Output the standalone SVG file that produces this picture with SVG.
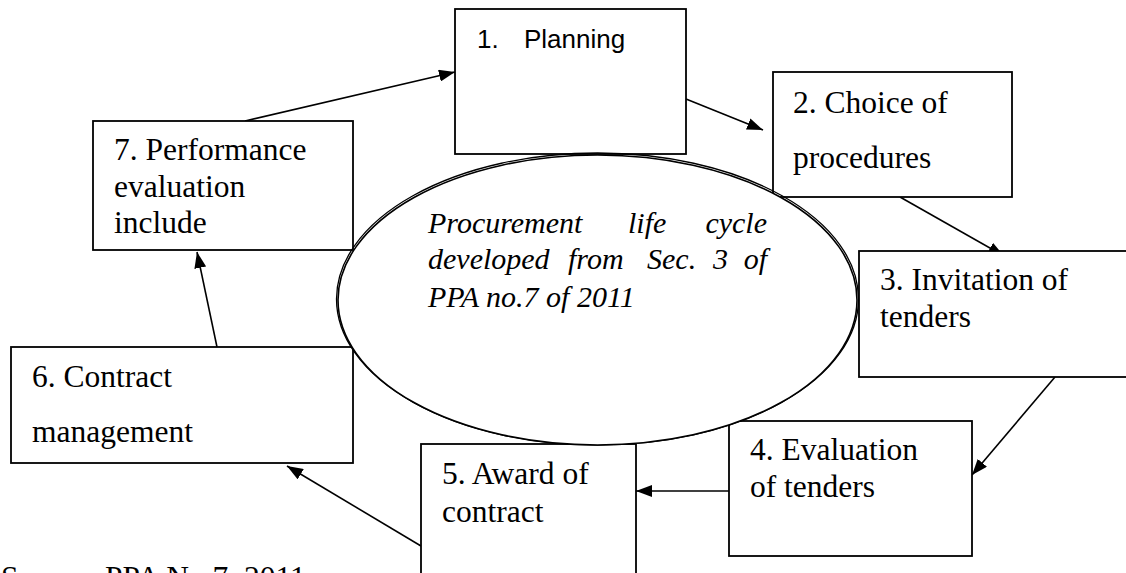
<svg xmlns="http://www.w3.org/2000/svg" width="1126" height="573" viewBox="0 0 1126 573">
<defs>
<marker id="ah" viewBox="0 0 16 12" refX="16" refY="6" markerWidth="16" markerHeight="12" markerUnits="userSpaceOnUse" orient="auto">
<path d="M0,0 L16,6 L0,12 Z" fill="#000"/>
</marker>
<style>
.box{fill:#fff;stroke:#000;stroke-width:1.8}
.lbl{font-family:"Liberation Serif","Times New Roman",serif;font-size:31.5px;fill:#000}
.sans{font-family:"Liberation Sans",Arial,sans-serif;font-size:26px;fill:#000}
.it{font-family:"Liberation Serif","Times New Roman",serif;font-size:30px;font-style:italic;fill:#000}
.con{fill:none;stroke:#000;stroke-width:1.6;marker-end:url(#ah)}
</style>
</defs>
<rect width="1126" height="573" fill="#fff"/>
<g id="connectors">
<line class="con" x1="245" y1="121" x2="455" y2="72"/>
<line class="con" x1="686" y1="99" x2="763" y2="130"/>
<line class="con" x1="900" y1="197" x2="1004" y2="256"/>
<line class="con" x1="1055" y1="377" x2="972" y2="475"/>
<line class="con" x1="729" y1="491" x2="636" y2="491"/>
<line class="con" x1="421" y1="546" x2="287" y2="466"/>
<line class="con" x1="217" y1="347" x2="197" y2="252"/>
</g>
<g id="node1">
<rect class="box" x="455" y="9" width="231" height="145"/>
<text class="sans" x="477" y="48">1.</text>
<text class="sans" x="524" y="48">Planning</text>
</g>
<g id="node2">
<rect class="box" x="773" y="72" width="239" height="125"/>
<text class="lbl" x="793" y="113">2. Choice of</text>
<text class="lbl" x="793" y="168">procedures</text>
</g>
<g id="node3">
<rect class="box" x="859" y="251" width="280" height="126"/>
<text class="lbl" x="880" y="290">3. Invitation of</text>
<text class="lbl" x="880" y="327">tenders</text>
</g>
<g id="node4">
<rect class="box" x="729" y="421" width="243" height="135"/>
<text class="lbl" x="750" y="460">4. Evaluation</text>
<text class="lbl" x="750" y="497">of tenders</text>
</g>
<g id="node5">
<rect class="box" x="421" y="444" width="215" height="140"/>
<text class="lbl" x="442" y="484">5. Award of</text>
<text class="lbl" x="442" y="522">contract</text>
</g>
<g id="node6">
<rect class="box" x="11" y="347" width="342" height="116"/>
<text class="lbl" x="32" y="387">6. Contract</text>
<text class="lbl" x="32" y="442">management</text>
</g>
<g id="node7">
<rect class="box" x="93" y="121" width="260" height="129"/>
<text class="lbl" x="114" y="160">7. Performance</text>
<text class="lbl" x="114" y="197">evaluation</text>
<text class="lbl" x="114" y="233">include</text>
</g>
<g id="center">
<ellipse cx="597.5" cy="299" rx="261" ry="146" fill="none" stroke="#000" stroke-width="1.3"/>
<ellipse cx="597.5" cy="300" rx="259.5" ry="145" fill="#fff" stroke="#000" stroke-width="1.6"/>
<text class="it" x="428" y="233">Procurement</text>
<text class="it" x="628" y="233">life</text>
<text class="it" x="767" y="233" text-anchor="end">cycle</text>
<text class="it" x="428" y="269">developed</text>
<text class="it" x="568" y="269">from</text>
<text class="it" x="647" y="269">Sec.</text>
<text class="it" x="713" y="269">3</text>
<text class="it" x="767" y="269" text-anchor="end">of</text>
<text class="it" x="428" y="307">PPA no.7 of 2011</text>
</g>
<text class="lbl" x="1" y="588">Source: PPA No.7, 2011</text>
</svg>
